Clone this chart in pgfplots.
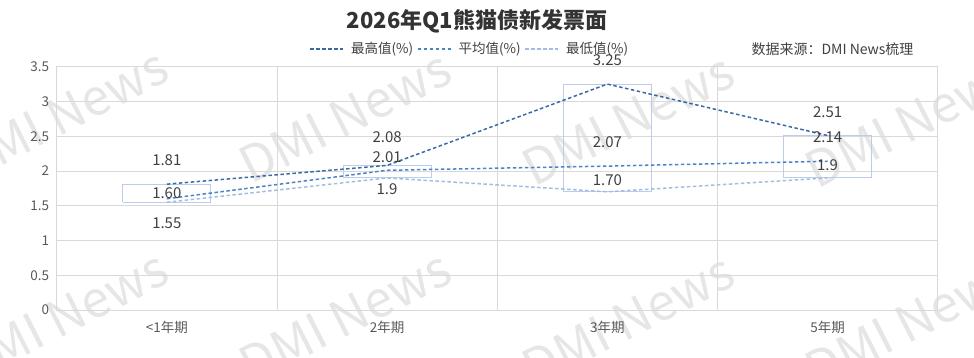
\documentclass[border=0pt]{standalone}
\usepackage{fontspec}
\setmainfont{Noto Sans CJK SC}
\usepackage{pgfplots}
\pgfplotsset{compat=1.18}
\definecolor{maxc}{HTML}{3A6AA3}
\definecolor{avgc}{HTML}{4A84C4}
\definecolor{minc}{HTML}{A3BDE0}
\definecolor{boxc}{HTML}{BCCDEC}
\definecolor{gridc}{HTML}{D9D9D9}
\definecolor{textc}{HTML}{404040}
\definecolor{tickc}{HTML}{595959}
\definecolor{wmc}{HTML}{E6E6E6}
\begin{document}
\begin{tikzpicture}[x=1pt,y=1pt]
\useasboundingbox (-56.7,-48) rectangle (917.3,310);
\foreach \cx/\cy in {62/115, 345/117, 628/120, 911/122, 62/317, 345/317, 628/320, 911/322} {
  \node[rotate=27, text=wmc, font=\fontsize{50}{50}\selectfont] at (\cx-56.7, 310-\cy) {DMI News};
}
\begin{axis}[
  scale only axis, width=881pt, height=243.3pt,
  xmin=-0.5, xmax=3.5, ymin=0, ymax=3.5,
  xtick={0,1,2,3}, xticklabels={<1年期,2年期,3年期,5年期},
  minor xtick={-0.5,0.5,1.5,2.5,3.5},
  ytick={0,0.5,1,1.5,2,2.5,3,3.5},
  xminorgrids, ymajorgrids,
  major tick length=0pt, minor tick length=0pt,
  axis line style={draw=gridc, line width=0.8pt},
  grid style={draw=gridc, line width=0.8pt},
  minor grid style={draw=gridc, line width=0.8pt},
  tick label style={text=tickc, font=\fontsize{13.5}{16}\selectfont},
  yticklabel style={/pgf/number format/assume math mode=true, xshift=-4pt},
  xticklabel style={yshift=-8pt},
  clip=false,
  legend columns=3,
  legend style={draw=none, fill=none, at={(0.469,1.073)}, anchor=center,
    font=\fontsize{13.5}{15}\selectfont, text=textc,
    /tikz/every odd column/.append style={column sep=5pt},
    /tikz/every even column/.append style={column sep=2pt}},
  legend image code/.code={\draw[#1, mark=none] (0pt,0pt) -- (33pt,0pt);},
]
\addplot[boxc, line width=1pt, forget plot] coordinates {(-0.2,1.55) (0.2,1.55) (0.2,1.81) (-0.2,1.81) (-0.2,1.55)};
\addplot[boxc, line width=1pt, forget plot] coordinates {(0.8,1.9) (1.2,1.9) (1.2,2.08) (0.8,2.08) (0.8,1.9)};
\addplot[boxc, line width=1pt, forget plot] coordinates {(1.8,1.70) (2.2,1.70) (2.2,3.25) (1.8,3.25) (1.8,1.70)};
\addplot[boxc, line width=1pt, forget plot] coordinates {(2.8,1.9) (3.2,1.9) (3.2,2.51) (2.8,2.51) (2.8,1.9)};
\addplot[maxc, line width=1.5pt, dash pattern=on 3.5pt off 2.5pt] coordinates {(0,1.81) (1,2.08) (2,3.25) (3,2.51)};
\addlegendentry{最高值(\%)}
\addplot[avgc, line width=1.5pt, dash pattern=on 3.5pt off 2.5pt] coordinates {(0,1.60) (1,2.01) (2,2.07) (3,2.14)};
\addlegendentry{平均值(\%)}
\addplot[minc, line width=1.5pt, dash pattern=on 3.5pt off 2.5pt] coordinates {(0,1.55) (1,1.9) (2,1.70) (3,1.9)};
\addlegendentry{最低值(\%)}
\begin{scope}[every node/.style={font=\fontsize{15}{18}\selectfont, text=textc}]
\node at (axis cs:0,2.15) {1.81};
\node at (axis cs:0,1.68) {1.60};
\node at (axis cs:0,1.25) {1.55};
\node at (axis cs:1,2.49) {2.08};
\node at (axis cs:1,2.20) {2.01};
\node at (axis cs:1,1.74) {1.9};
\node at (axis cs:2,3.59) {3.25};
\node at (axis cs:2,2.42) {2.07};
\node at (axis cs:2,1.87) {1.70};
\node at (axis cs:3,2.85) {2.51};
\node at (axis cs:3,2.49) {2.14};
\node at (axis cs:3,2.08) {1.9};
\end{scope}
\end{axis}
\node[font=\fontsize{22}{24}\selectfont\bfseries, text=textc!80!black] at (420.3, 289) {2026年Q1熊猫债新发票面};
\node[font=\fontsize{14}{16}\selectfont, text=textc] at (775.8, 261) {数据来源：DMI News梳理};
\end{tikzpicture}
\end{document}
